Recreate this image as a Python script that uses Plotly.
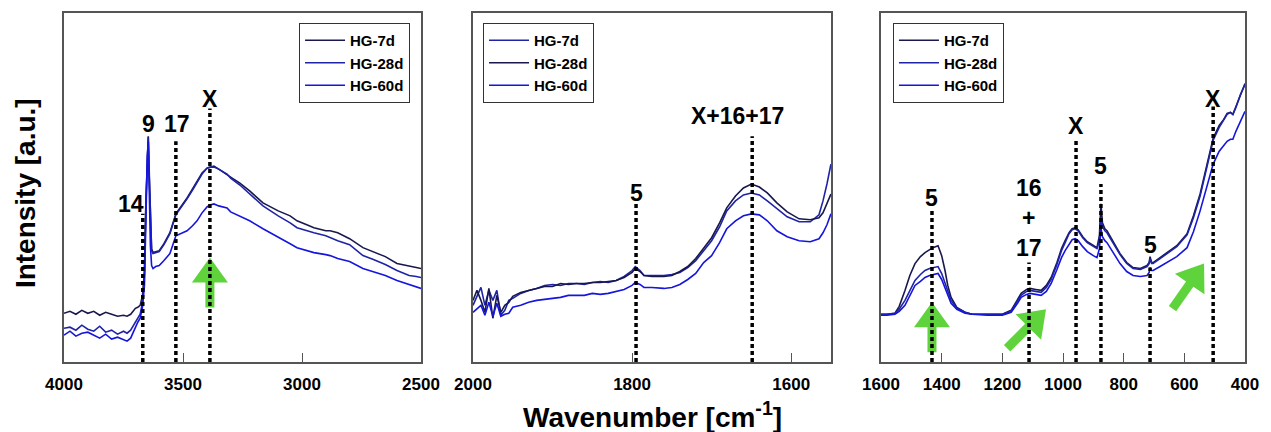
import math
import plotly.graph_objects as go

# ---------------- data ----------------
# panel 1 : 4000 - 2500 cm-1
wn1 = [4000, 3975, 3950, 3925, 3900, 3875, 3850, 3825, 3800, 3775, 3750, 3735, 3720,
       3700, 3690, 3680, 3670, 3662, 3656, 3650, 3646, 3642, 3637, 3632, 3626, 3615,
       3600, 3580, 3555, 3530, 3500, 3483, 3460, 3441, 3420, 3399, 3387, 3370, 3350,
       3315, 3300, 3261, 3220, 3164, 3100, 3050, 3021, 2980, 2950, 2900, 2882, 2850,
       2800, 2744, 2700, 2650, 2601, 2550, 2520, 2500]
p1_7d = [49, 51, 48, 52, 49, 51, 47, 50, 48, 46, 47, 46, 48,
         54, 55, 57, 67, 92, 162, 212, 227, 187, 137, 114, 110, 111,
         112, 119, 130, 149, 159, 165, 174, 182, 190, 195, 196, 197, 194,
         189, 186, 180, 172, 160, 152, 147, 142, 138, 135, 132, 132, 130,
         124, 115, 111, 106, 99, 96, 95, 94]
p1_28d = [34, 35, 32, 37, 33, 31, 36, 30, 32, 28, 31, 29, 32,
          40, 44, 48, 60, 87, 157, 214, 226, 192, 134, 112, 109, 110,
          111, 118, 129, 148, 158, 164, 173, 181, 189, 195, 196, 196, 194,
          189, 185, 178, 169, 157, 147, 140, 135, 132, 130, 127, 125, 122,
          118, 107, 103, 98, 92, 87, 86, 85]
p1_60d = [27, 31, 26, 29, 30, 27, 24, 28, 23, 25, 22, 21, 24,
          35, 40, 44, 56, 77, 147, 207, 222, 177, 117, 97, 94, 96,
          97, 102, 109, 127, 130, 132, 137, 142, 150, 156, 158, 159, 157,
          155, 151, 147, 142, 134, 126, 119, 115, 112, 110, 108, 107, 104,
          101, 94, 91, 87, 82, 78, 75, 74]

# panel 2 : 2000 - 1550 cm-1
wn2 = [2000, 1995, 1990, 1985, 1980, 1975, 1970, 1965, 1960, 1955, 1950, 1940, 1930,
       1920, 1910, 1900, 1890, 1880, 1870, 1860, 1850, 1840, 1830, 1820, 1810, 1800,
       1796, 1790, 1785, 1775, 1760, 1750, 1740, 1730, 1720, 1710, 1700, 1690, 1681,
       1670, 1660, 1650, 1640, 1630, 1618, 1605, 1590, 1576, 1565, 1560, 1555, 1550]
p2_7d = [57, 67, 75, 57, 72, 62, 72, 47, 52, 62, 64, 69, 72,
         74, 77, 78, 77, 79, 79, 78, 80, 81, 80, 82, 86, 92,
         96, 92, 87, 87, 87, 88, 90, 95, 102, 112, 122, 136, 152,
         162, 168, 170, 168, 162, 154, 146, 141, 141, 148, 162, 179, 199]
p2_28d = [62, 72, 62, 50, 74, 44, 67, 50, 57, 60, 66, 70, 72,
          74, 76, 76, 79, 78, 79, 79, 80, 80, 81, 82, 85, 90,
          94, 91, 87, 86, 86, 87, 91, 96, 104, 114, 125, 140, 155,
          167, 175, 179, 176, 170, 160, 151, 144, 143, 145, 150, 159, 169]
p2_60d = [50, 54, 57, 47, 60, 46, 59, 46, 48, 49, 55, 57, 60,
          62, 63, 64, 65, 67, 67, 67, 69, 68, 69, 71, 73, 77,
          80, 78, 75, 75, 74, 75, 78, 83, 89, 100, 107, 120, 134,
          142, 147, 149, 148, 142, 132, 126, 122, 121, 124, 130, 138, 149]

# panel 3 : 1600 - 400 cm-1
wn3 = [1600, 1580, 1554, 1540, 1521, 1505, 1488, 1470, 1455, 1440, 1429, 1412, 1400,
       1389, 1380, 1369, 1350, 1323, 1300, 1250, 1200, 1171, 1150, 1138, 1120, 1109,
       1090, 1072, 1055, 1039, 1020, 1005, 993, 980, 970, 960, 950, 935, 920, 900,
       888, 880, 875, 870, 862, 855, 840, 825, 812, 790, 769, 745, 723, 716, 713,
       708, 703, 680, 657, 625, 591, 570, 548, 525, 505, 485, 470, 459, 448, 440,
       430, 415, 400]
p3_7d = [48, 48, 49, 56, 72, 87, 99, 106, 110, 113, 115, 117, 107,
         92, 77, 65, 55, 50, 48, 48, 48, 52, 63, 69, 73, 74,
         73, 72, 77, 85, 100, 114, 122, 130, 134, 135, 133, 126, 121, 117,
         115, 127, 159, 140, 134, 132, 124, 115, 109, 100, 95, 94, 97, 100, 106,
         100, 100, 105, 110, 117, 129, 147, 169, 199, 225, 238, 244, 250, 251, 249,
         257, 270, 280]
p3_28d = [48, 48, 49, 53, 62, 72, 82, 88, 92, 94, 95, 96, 89,
          79, 70, 62, 54, 50, 48, 48, 48, 51, 61, 67, 71, 72,
          71, 70, 75, 83, 98, 112, 120, 129, 133, 134, 132, 125, 120, 116,
          114, 122, 145, 136, 132, 130, 122, 114, 108, 99, 94, 93, 96, 99, 104,
          99, 99, 104, 109, 116, 128, 145, 167, 197, 223, 236, 243, 249, 251, 249,
          256, 269, 279]
p3_60d = [47, 47, 48, 51, 57, 67, 77, 81, 85, 87, 88, 89, 83,
          75, 67, 59, 53, 49, 48, 47, 47, 50, 59, 65, 68, 69,
          68, 67, 71, 79, 93, 105, 112, 119, 123, 124, 122, 116, 111, 107,
          105, 114, 135, 126, 122, 120, 113, 105, 99, 91, 87, 86, 87, 90, 95,
          92, 92, 96, 100, 106, 115, 131, 152, 177, 199, 212, 218, 222, 224, 224,
          232, 242, 252]

series_names = ["HG-7d", "HG-28d", "HG-60d"]

# peak assignments (wavenumber, label)
p1_peaks = [3669, 3530, 3387]
p1_labels = ["14", "17", "X"]
p2_peaks = [1795, 1649]
p2_labels = ["5", "X+16+17"]
p3_peaks = [1432, 1112, 957, 875, 713, 505]
p3_labels = ["5", "16<br>+<br>17", "X", "5", "5", "X"]

# ---------------- styling ----------------
C_DARK = "#18184f"
C_MID = "#1f24a6"
C_BRIGHT = "#1515dd"
GREEN = "#5ed33c"
FONT = "Liberation Sans"

fig = go.Figure()

panels = [
    ("x", "y", "legend", wn1, [(p1_7d, C_DARK), (p1_28d, C_MID), (p1_60d, C_BRIGHT)]),
    ("x2", "y2", "legend2", wn2, [(p2_7d, C_MID), (p2_28d, C_DARK), (p2_60d, C_BRIGHT)]),
    ("x3", "y3", "legend3", wn3, [(p3_7d, C_DARK), (p3_28d, C_MID), (p3_60d, C_BRIGHT)]),
]
for xa, ya, leg, wn, curves in panels:
    for name, (vals, col) in zip(series_names, curves):
        fig.add_trace(go.Scatter(x=wn, y=vals, mode="lines", name=name,
                                 line=dict(color=col, width=1.6),
                                 xaxis=xa, yaxis=ya, legend=leg))


def arrow_path(angle, length=50, head_len=25, head_w=36, shaft_w=9):
    a = math.radians(angle)
    dx, dy = math.cos(a), math.sin(a)
    nx, ny = -dy, dx
    bx, by = -dx * head_len, -dy * head_len
    tx, ty = -dx * length, -dy * length
    pts = [(0, 0),
           (bx + nx * head_w / 2, by + ny * head_w / 2),
           (bx + nx * shaft_w / 2, by + ny * shaft_w / 2),
           (tx + nx * shaft_w / 2, ty + ny * shaft_w / 2),
           (tx - nx * shaft_w / 2, ty - ny * shaft_w / 2),
           (bx - nx * shaft_w / 2, by - ny * shaft_w / 2),
           (bx - nx * head_w / 2, by - ny * head_w / 2)]
    return "M" + "L".join(f"{px:.1f},{py:.1f}" for px, py in pts) + "Z"


# green arrows (tip position, angle, length)
arrows = [("x", "y", 3387, 105, 90, 50),
          ("x3", "y3", 1432, 60, 90, 50),
          ("x3", "y3", 1056, 53, 45, 55),
          ("x3", "y3", 535, 99, 55, 55)]
for xa, ya, xt, yt, ang, ln in arrows:
    fig.add_shape(type="path", xref=xa, yref=ya, xsizemode="pixel", ysizemode="pixel",
                  xanchor=xt, yanchor=yt, path=arrow_path(ang, ln),
                  fillcolor=GREEN, line=dict(width=0), layer="above")

# dotted peak lines (top heights) and label positions
line_tops = {"x": [149, 222, 255], "x2": [160, 227], "x3": [152, 100, 225, 179, 95, 257]}
label_pos = {"x": [(3718, 159), (3525, 239), (3387, 265)],
             "x2": [(1795, 170), (1667, 247)],
             "x3": [(1432, 165), (1112, 145), (957, 237), (875, 197), (713, 118), (505, 265)]}
peak_sets = {"x": (p1_peaks, p1_labels, "y"), "x2": (p2_peaks, p2_labels, "y2"),
             "x3": (p3_peaks, p3_labels, "y3")}
for xa, (pk, lb, ya) in peak_sets.items():
    for w, top, txt, (lx, ly) in zip(pk, line_tops[xa], lb, label_pos[xa]):
        fig.add_shape(type="line", xref=xa, yref=ya, x0=w, x1=w, y0=0, y1=top,
                      line=dict(color="black", width=3.5, dash="4px,3px"), layer="above")
        fig.add_annotation(x=lx, y=ly, xref=xa, yref=ya, text=txt, showarrow=False,
                           font=dict(family=FONT, size=23, color="black", weight="bold"))
# peak 9 (sharp band, no line)
fig.add_annotation(x=3643, y=239, xref="x", yref="y", text="9", showarrow=False,
                   font=dict(family=FONT, size=23, color="black", weight="bold"))

# axis titles
fig.add_annotation(x=0.498, y=-0.151, xref="paper", yref="paper",
                   xanchor="center", yanchor="middle",
                   text="Wavenumber [cm<sup>-1</sup>]", showarrow=False,
                   font=dict(family=FONT, size=28, color="black", weight="bold"))
fig.add_annotation(x=-0.033, y=0.484, xref="paper", yref="paper", textangle=-90,
                   xanchor="center", yanchor="middle",
                   text="Intensity [a.u.]", showarrow=False,
                   font=dict(family=FONT, size=28, color="black", weight="bold"))

xcommon = dict(showline=True, mirror=True, linecolor="#555555", linewidth=1.5,
               ticks="inside", ticklen=9, tickcolor="#555555", tickwidth=1.2,
               showgrid=False, zeroline=False, ticklabelstandoff=6,
               tickfont=dict(family=FONT, size=17, color="black", weight="bold"))
ycommon = dict(showline=True, mirror=True, linecolor="#555555", linewidth=1.5,
               ticks="", showticklabels=False, showgrid=False, zeroline=False,
               range=[0, 351])

legcommon = dict(bgcolor="white", bordercolor="#333333", borderwidth=1,
                 font=dict(family=FONT, size=15, color="black", weight="bold"),
                 yanchor="top", y=0.9715, itemwidth=40, tracegroupgap=0)

# the page body has an 8px margin: shift the figure up/left by 8px to compensate
fig.update_layout(
    width=1263, height=424, autosize=False,
    margin=dict(l=56, r=26, t=3, b=70),
    paper_bgcolor="white", plot_bgcolor="white",
    font=dict(family=FONT),
    xaxis=dict(domain=[0, 0.3023], range=[4000, 2500], tickvals=[4000, 3500, 3000, 2500], **xcommon),
    xaxis2=dict(domain=[0.3463, 0.6494], range=[2000, 1550], tickvals=[2000, 1800, 1600], **xcommon),
    xaxis3=dict(domain=[0.6918, 1.0], range=[1600, 400],
                tickvals=[1600, 1400, 1200, 1000, 800, 600, 400], **xcommon),
    yaxis=dict(anchor="x", **ycommon),
    yaxis2=dict(anchor="x2", **ycommon),
    yaxis3=dict(anchor="x3", **ycommon),
    legend=dict(x=0.2930, xanchor="right", **legcommon),
    legend2=dict(x=0.3548, xanchor="left", **legcommon),
    legend3=dict(x=0.7019, xanchor="left", **legcommon),
)

fig.write_html("out.html")
